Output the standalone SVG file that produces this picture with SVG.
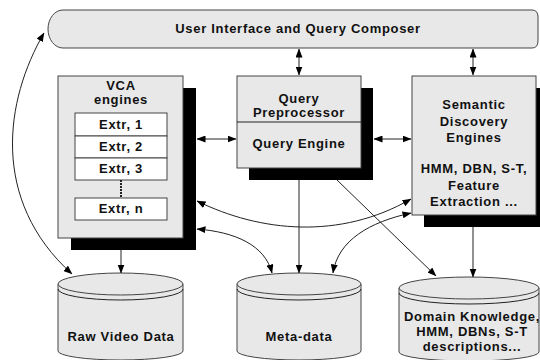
<svg xmlns="http://www.w3.org/2000/svg" width="540" height="360" viewBox="0 0 540 360">
<style>
.box{fill:#e8e8e8;stroke:#444;stroke-width:1}
.wbox{fill:#ffffff;stroke:#444;stroke-width:1}
.sh{fill:#000}
.t{font-family:"Liberation Sans",Arial,Helvetica,sans-serif;font-weight:bold;font-size:13px;letter-spacing:0.7px;text-anchor:middle;fill:#111}
.c{fill:none;stroke:#222;stroke-width:1}
</style>
<defs>
<marker id="ah" markerUnits="userSpaceOnUse" markerWidth="9" markerHeight="7" refX="8.5" refY="3.5" orient="auto-start-reverse" viewBox="0 0 9 7">
<path d="M0,0 L9,3.5 L0,7 z" fill="#000"/>
</marker>
</defs>
<rect width="540" height="360" fill="#fff"/>

<g id="ui">
<path class="box" d="M63 10 H532 Q538 10 538 17 V41 Q538 48 532 48 H63 A15 19 0 0 1 63 10 Z"/>
<text class="t" x="298" y="33">User Interface and Query Composer</text>
</g>

<g id="vca">
<rect class="sh" x="71" y="88" width="125" height="162"/>
<rect class="box" x="58" y="76" width="125" height="162"/>
<text class="t" x="121" y="90">VCA</text>
<text class="t" x="121" y="104">engines</text>
<rect class="wbox" x="75" y="113" width="92" height="23"/>
<rect class="wbox" x="75" y="136" width="92" height="22"/>
<rect class="wbox" x="75" y="158" width="92" height="22"/>
<line x1="121" y1="180" x2="121" y2="198" stroke="#222" stroke-width="2" stroke-dasharray="2,1"/>
<rect class="wbox" x="75" y="198" width="92" height="22"/>
<text class="t" x="121" y="129">Extr, 1</text>
<text class="t" x="121" y="151">Extr, 2</text>
<text class="t" x="121" y="173">Extr, 3</text>
<text class="t" x="121" y="213">Extr, n</text>
</g>

<g id="query">
<rect class="sh" x="249" y="88" width="124" height="92"/>
<rect class="box" x="237" y="76" width="124" height="92"/>
<line x1="237" y1="122" x2="361" y2="122" stroke="#222" stroke-width="1"/>
<text class="t" x="299" y="103">Query</text>
<text class="t" x="299" y="117">Preprocessor</text>
<text class="t" x="299" y="148">Query Engine</text>
</g>

<g id="semantic">
<rect class="sh" x="424" y="88" width="124" height="139"/>
<rect class="box" x="412" y="76" width="124" height="139"/>
<text class="t" x="474" y="109">Semantic</text>
<text class="t" x="474" y="126">Discovery</text>
<text class="t" x="474" y="142">Engines</text>
<text class="t" x="474" y="173">HMM, DBN, S-T,</text>
<text class="t" x="474" y="190">Feature</text>
<text class="t" x="474" y="206">Extraction ...</text>
</g>

<g id="rawvideo">
<path class="box" d="M58 284 V351 A62.5 9 0 0 0 183 351 V284"/>
<ellipse class="box" cx="120.5" cy="284" rx="62.5" ry="11"/>
<path class="c" d="M58 289 A62.5 11 0 0 0 183 289"/>
<text class="t" x="121" y="341">Raw Video Data</text>
</g>

<g id="metadata">
<path class="box" d="M237 284 V351 A62 9 0 0 0 361 351 V284"/>
<ellipse class="box" cx="299" cy="284" rx="62" ry="11"/>
<path class="c" d="M237 289 A62 11 0 0 0 361 289"/>
<text class="t" x="299" y="341">Meta-data</text>
</g>

<g id="domain">
<path class="box" d="M399 288 V352 A70 9 0 0 0 539 352 V288"/>
<ellipse class="box" cx="469" cy="288" rx="70" ry="11"/>
<path class="c" d="M399 293 A70 11 0 0 0 539 293"/>
<text class="t" x="472" y="321">Domain Knowledge,</text>
<text class="t" x="472" y="336">HMM, DBNs, S-T</text>
<text class="t" x="472" y="351">descriptions...</text>
</g>

<g id="connectors">
<line class="c" x1="299" y1="49" x2="299" y2="75" marker-start="url(#ah)" marker-end="url(#ah)"/>
<line class="c" x1="473" y1="49" x2="473" y2="75" marker-start="url(#ah)" marker-end="url(#ah)"/>
<line class="c" x1="197" y1="139" x2="236" y2="139" marker-start="url(#ah)" marker-end="url(#ah)"/>
<line class="c" x1="374" y1="139" x2="411" y2="139" marker-start="url(#ah)" marker-end="url(#ah)"/>
<line class="c" x1="121" y1="250" x2="121" y2="273" marker-end="url(#ah)"/>
<line class="c" x1="299" y1="180" x2="299" y2="273" marker-end="url(#ah)"/>
<line class="c" x1="473" y1="227" x2="473" y2="277" marker-end="url(#ah)"/>
<line class="c" x1="337" y1="180" x2="436" y2="276" marker-end="url(#ah)"/>
<path class="c" d="M197 201 C260 232 340 240 411 199" marker-start="url(#ah)" marker-end="url(#ah)"/>
<path class="c" d="M197 229 C235 232 265 245 272 273" marker-start="url(#ah)" marker-end="url(#ah)"/>
<path class="c" d="M411 213 C370 222 338 240 333 273" marker-start="url(#ah)" marker-end="url(#ah)"/>
<path class="c" d="M44 33 C5 100 -10 200 72 274" marker-start="url(#ah)" marker-end="url(#ah)"/>
</g>
</svg>
